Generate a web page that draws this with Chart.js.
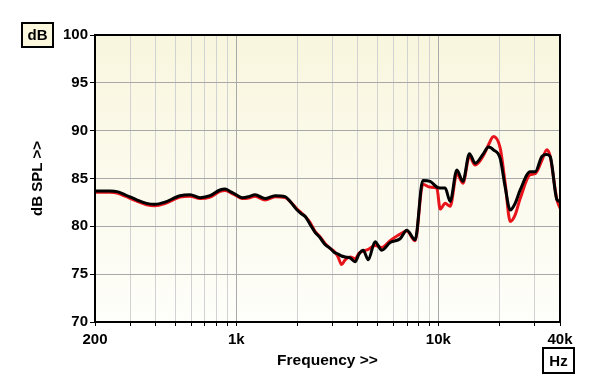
<!DOCTYPE html>
<html><head><meta charset="utf-8">
<script src="https://cdn.jsdelivr.net/npm/chart.js@4.4.0/dist/chart.umd.min.js"></script>
<style>html,body{margin:0;padding:0;background:#fff;}#wrap{width:600px;height:389px;position:relative;}</style>
</head><body><div id="wrap"><canvas id="c" width="600" height="389"></canvas></div>
<script>
const frequencies = [200,237,260,282,320,360,396,440,527,591,662,742,831,880,940,1000,1069,1150,1239,1389,1557,1744,1847,2000,2100,2200,2320,2450,2600,2750,2914,3050,3192,3320,3458,3660,3874,4050,4250,4500,4865,5250,5774,6471,6982,7677,8382,9108,9834,10208,10814,11438,12354,13228,14250,15218,16718,17698,18740,20227,21420,22683,24000,25410,28480,30150,32540,34440,35770,38600,40000];
const blackSeries = [83.7,83.7,83.6,83.3,82.8,82.4,82.3,82.5,83.2,83.3,83.0,83.2,83.8,83.9,83.6,83.3,83.0,83.1,83.3,82.9,83.2,83.1,82.6,81.7,81.3,81.0,80.2,79.4,78.8,78.1,77.7,77.3,77.1,76.9,76.8,76.7,76.3,77.1,77.5,76.5,78.4,77.5,78.3,78.7,79.6,78.6,84.8,84.7,84.1,84.0,84.0,82.6,85.9,84.7,87.6,86.6,87.6,88.3,88.0,87.1,84.1,81.7,82.4,83.8,85.7,85.7,87.3,87.5,87.3,82.8,82.6];
const redSeries = [83.55,83.55,83.45,83.15,82.65,82.25,82.15,82.35,83.05,83.15,82.9,83.05,83.65,83.75,83.5,83.2,82.9,82.95,83.15,82.75,83.1,83.0,82.6,81.8,81.4,81.0,80.4,79.5,78.9,78.2,77.7,77.4,76.8,76.0,76.5,76.8,76.6,77.2,77.4,77.6,78.0,77.8,78.5,79.2,79.5,78.5,84.4,84.1,84.0,81.8,82.4,82.1,85.5,84.5,87.3,86.4,87.4,88.5,89.4,88.2,84.5,80.5,81.2,82.9,85.4,85.5,86.9,88.0,87.3,82.8,81.9];
const xGridTicks = [200,300,400,500,600,700,800,900,1000,2000,3000,4000,5000,6000,7000,8000,9000,10000,20000,30000,40000];
const xTickLabels = {200:'200',1000:'1k',10000:'10k',40000:'40k'};
const yMin = 70, yMax = 100, yStep = 5;

const FONT = "'Liberation Sans', Arial, sans-serif";

const decor = {
  id: 'decor',
  beforeDraw(chart) {
    const {ctx, chartArea: a} = chart;
    const g = ctx.createLinearGradient(0, a.top, 0, a.bottom);
    g.addColorStop(0, '#f9f6de');
    g.addColorStop(1, '#fefefa');
    ctx.save();
    ctx.fillStyle = g;
    ctx.fillRect(a.left, a.top, a.right - a.left, a.bottom - a.top);
    ctx.restore();
  },
  afterDraw(chart) {
    const {ctx, chartArea: a} = chart;
    ctx.save();
    ctx.strokeStyle = '#000';
    ctx.lineWidth = 2;
    ctx.strokeRect(a.left, a.top, a.right - a.left, a.bottom - a.top);
    const box = (x, y, w, h, txt, fill) => {
      ctx.fillStyle = fill;
      ctx.fillRect(x, y, w, h);
      ctx.lineWidth = 2;
      ctx.strokeStyle = '#000';
      ctx.strokeRect(x, y, w, h);
      ctx.fillStyle = '#000';
      ctx.font = "bold 15px " + FONT;
      ctx.textAlign = 'center';
      ctx.textBaseline = 'middle';
      ctx.fillText(txt, x + w / 2, y + h / 2 + 1);
    };
    box(22, 23, 31, 24, 'dB', '#fbf8dd');
    box(543, 348, 31, 25, 'Hz', '#ffffff');
    ctx.restore();
  }
};

new Chart(document.getElementById('c'), {
  type: 'line',
  data: {
    datasets: [
      { label: 'black', data: frequencies.map((f, i) => ({x: f, y: blackSeries[i]})), borderColor: '#000000', borderWidth: 3, pointRadius: 0, cubicInterpolationMode: 'monotone', fill: false },
      { label: 'red', data: frequencies.map((f, i) => ({x: f, y: redSeries[i]})), borderColor: '#e8141c', borderWidth: 3, pointRadius: 0, cubicInterpolationMode: 'monotone', fill: false }
    ]
  },
  options: {
    responsive: false,
    animation: false,
    devicePixelRatio: 1,
    layout: { padding: { left: 0, right: 40, top: 35, bottom: 0 } },
    plugins: { legend: { display: false }, tooltip: { enabled: false } },
    scales: {
      x: {
        type: 'logarithmic',
        min: 200, max: 40000,
        afterFit(s) { s.height = 67; },
        afterBuildTicks(s) { s.ticks = xGridTicks.map(v => ({value: v})); },
        ticks: {
          autoSkip: false, maxRotation: 0, minRotation: 0, padding: 5,
          color: '#000', font: { family: FONT, size: 15, weight: 'bold' },
          callback: (v) => xTickLabels[v] || ''
        },
        grid: {
          color: (c) => (c.tick && (c.tick.value === 1000 || c.tick.value === 10000)) ? '#a9a9a9' : '#d2d2d2',
          lineWidth: 1, tickLength: 4, tickColor: '#000', drawTicks: true
        },
        border: { display: true, color: '#000', width: 2 },
        title: { display: true, text: 'Frequency >>', color: '#000', font: { family: FONT, size: 15.5, weight: 'bold' }, padding: { top: 0, bottom: 19 } }
      },
      y: {
        min: yMin, max: yMax,
        afterFit(s) { s.width = 95; },
        ticks: { stepSize: yStep, padding: 2, color: '#000', font: { family: FONT, size: 15, weight: 'bold' } },
        grid: { color: '#a8a8a8', lineWidth: 1, tickLength: 5, tickColor: '#000' },
        border: { display: true, color: '#000', width: 2 },
        title: { display: true, text: 'dB SPL >>', color: '#000', font: { family: FONT, size: 15, weight: 'bold' }, padding: { top: 29, bottom: 0 } }
      }
    }
  },
  plugins: [decor]
});
</script></body></html>
